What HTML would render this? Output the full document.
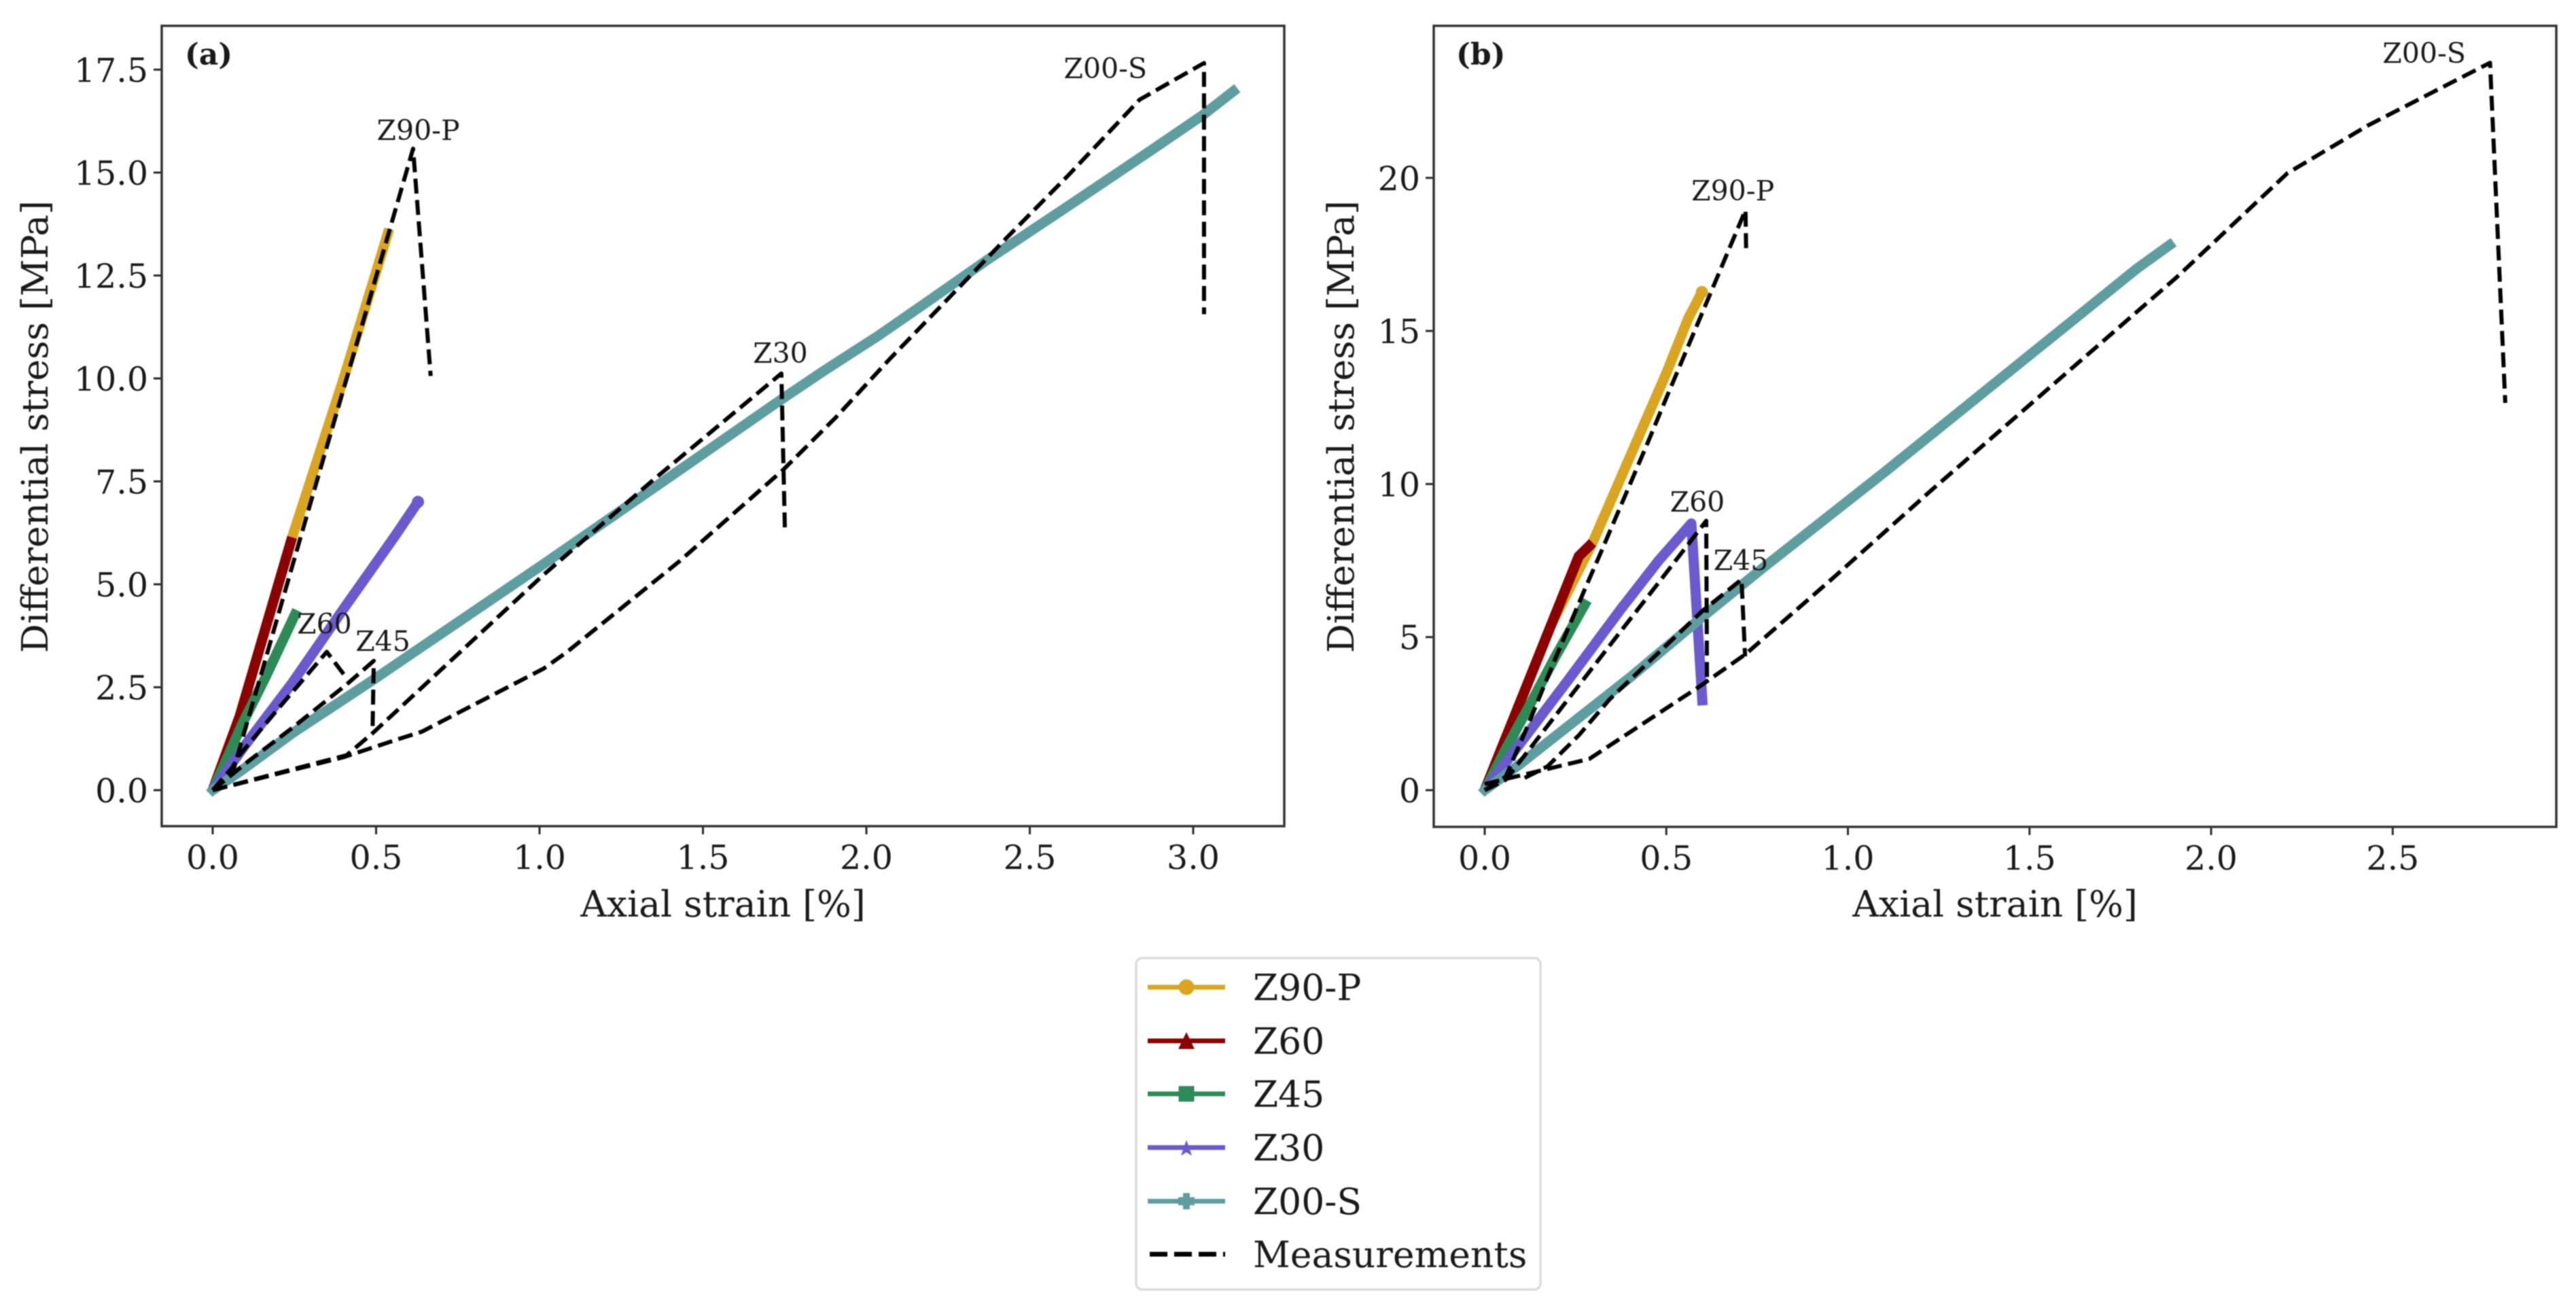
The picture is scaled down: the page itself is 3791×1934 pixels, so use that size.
<!DOCTYPE html>
<html lang="en">
<head>
<meta charset="utf-8">
<title>Differential stress vs axial strain</title>
<style>
html,body{margin:0;padding:0;background:#fff;}
svg{display:block;filter:blur(0.9px);}
text{font-family:"DejaVu Serif","Liberation Serif",serif;fill:#1a1a1a;}
.axis-title{font-size:53.5px;}
.tick-label{font-size:49px;}
.annotation{font-size:41px;}
.panel-tag{font-size:44px;font-weight:bold;}
.legend-label{font-size:53.5px;}
</style>
</head>
<body>
<svg id="figure" xmlns="http://www.w3.org/2000/svg" width="3791" height="1934" viewBox="0 0 3791 1934">
  <rect x="0" y="0" width="3791" height="1934" fill="#ffffff"/>
  <g id="panel-a">
    <text class="panel-tag" x="272" y="95">(a)</text>
    <text class="axis-title" x="1064" y="1349" text-anchor="middle">Axial strain [%]</text>
    <text class="axis-title" transform="translate(70,628) rotate(-90)" text-anchor="middle">Differential stress [MPa]</text>
  </g>
  <g id="panel-b">
    <text class="panel-tag" x="2143" y="95">(b)</text>
    <text class="axis-title" x="2936" y="1349" text-anchor="middle">Axial strain [%]</text>
    <text class="axis-title" transform="translate(1992,628) rotate(-90)" text-anchor="middle">Differential stress [MPa]</text>
  </g>
  <g id="legend">
    <rect x="1672" y="1410" width="595" height="488" rx="9" ry="9" fill="#ffffff" stroke="#dcdcdc" stroke-width="3.5"/>
    <g>
      <line x1="1689" y1="1453" x2="1803" y2="1453" stroke="#DAA520" stroke-width="7"/>
      <circle cx="1746" cy="1453" r="11.5" fill="#DAA520"/>
      <text class="legend-label" x="1844" y="1472">Z90-P</text>
    </g>
    <g>
      <line x1="1689" y1="1532" x2="1803" y2="1532" stroke="#8B0000" stroke-width="7"/>
      <polygon points="1746,1519 1758,1544 1734,1544" fill="#8B0000"/>
      <text class="legend-label" x="1844" y="1551">Z60</text>
    </g>
    <g>
      <line x1="1689" y1="1610" x2="1803" y2="1610" stroke="#2E8B57" stroke-width="7"/>
      <rect x="1734.5" y="1598.5" width="23" height="23" fill="#2E8B57"/>
      <text class="legend-label" x="1844" y="1629">Z45</text>
    </g>
    <g>
      <line x1="1689" y1="1689" x2="1803" y2="1689" stroke="#6A5ACD" stroke-width="7"/>
      <polygon points="1746,1678 1749,1686 1758,1686 1751,1692 1754,1701 1746,1696 1738,1701 1741,1692 1734,1686 1743,1686" fill="#6A5ACD"/>
      <text class="legend-label" x="1844" y="1708">Z30</text>
    </g>
    <g>
      <line x1="1689" y1="1768" x2="1803" y2="1768" stroke="#5F9EA0" stroke-width="7"/>
      <polygon points="1741,1756 1751,1756 1751,1762 1758,1762 1758,1774 1751,1774 1751,1780 1741,1780 1741,1774 1734,1774 1734,1762 1741,1762" fill="#5F9EA0"/>
      <text class="legend-label" x="1844" y="1787">Z00-S</text>
    </g>
    <g>
      <line x1="1692" y1="1846" x2="1803" y2="1846" stroke="#000000" stroke-width="7" stroke-dasharray="26 10"/>
      <text class="legend-label" x="1844" y="1865">Measurements</text>
    </g>
  </g>
</svg>
<script>
// ---------- Panel (a) model curves ----------
var aZ90Strain = [0, 0.083, 0.243, 0.40, 0.54];
var aZ90Stress = [0, 1.80, 6.14, 9.98, 13.63];
var aZ60Strain = [0, 0.083, 0.243];
var aZ60Stress = [0, 1.80, 6.14];
var aZ45Strain = [0, 0.09, 0.162, 0.258];
var aZ45Stress = [0, 1.60, 2.75, 4.37];
var aZ30Strain = [0, 0.10, 0.243, 0.40, 0.56, 0.628];
var aZ30Stress = [0, 1.10, 2.60, 4.40, 6.20, 7.00];
var aZ00Strain = [0, 0.083, 0.243, 0.48, 1.012, 1.428, 1.727, 1.869, 2.037, 2.19, 2.37, 2.62, 2.86, 3.03, 3.135];
var aZ00Stress = [0, 0.45, 1.38, 2.62, 5.49, 7.77, 9.42, 10.18, 11.04, 11.88, 12.88, 14.20, 15.48, 16.40, 17.05];

// ---------- Panel (a) measurements ----------
var aMeasZ90Strain = [0, 0.06, 0.107, 0.148, 0.202, 0.262, 0.358, 0.54, 0.613, 0.667];
var aMeasZ90Stress = [0, 0.40, 1.69, 2.81, 4.30, 5.95, 8.58, 13.57, 15.58, 10.06];
var aMeasZ60Strain = [0, 0.06, 0.083, 0.187, 0.349, 0.41];
var aMeasZ60Stress = [0, 0.55, 0.86, 1.85, 3.36, 2.72];
var aMeasZ45Strain = [0, 0.107, 0.243, 0.41, 0.493, 0.489];
var aMeasZ45Stress = [0, 0.69, 1.51, 2.57, 3.14, 1.39];
var aMeasZ30Strain = [0, 0.41, 0.49, 1.012, 1.35, 1.74, 1.751];
var aMeasZ30Stress = [0, 0.85, 1.39, 5.23, 7.55, 10.12, 6.25];
var aMeasZ00Strain = [0, 0.40, 0.56, 0.64, 1.012, 1.083, 1.428, 1.744, 1.906, 2.07, 2.287, 2.43, 2.62, 2.836, 3.033, 3.033];
var aMeasZ00Stress = [0, 0.80, 1.22, 1.42, 2.95, 3.35, 5.56, 7.77, 9.05, 10.46, 12.24, 13.42, 14.95, 16.77, 17.66, 11.56];

// ---------- Panel (b) model curves ----------
var bZ90Strain = [0, 0.116, 0.183, 0.297, 0.402, 0.501, 0.56, 0.598];
var bZ90Stress = [0, 3.42, 5.40, 8.08, 10.95, 13.65, 15.40, 16.27];
var bZ60Strain = [0, 0.04, 0.116, 0.183, 0.259, 0.297];
var bZ60Stress = [0, 1.18, 3.42, 5.40, 7.64, 8.08];
var bZ45Strain = [0, 0.058, 0.125, 0.193, 0.282];
var bZ45Stress = [0, 1.35, 2.80, 4.33, 6.20];
var bZ30Strain = [0, 0.087, 0.23, 0.374, 0.479, 0.569, 0.60];
var bZ30Stress = [0, 1.36, 3.60, 5.90, 7.50, 8.71, 2.77];
var bZ00Strain = [0, 0.097, 0.402, 0.593, 0.767, 1.10, 1.796, 1.897];
var bZ00Stress = [0, 0.85, 3.70, 5.60, 7.27, 10.38, 17.04, 17.90];

// ---------- Panel (b) measurements ----------
var bMeasZ90Strain = [0, 0.058, 0.116, 0.193, 0.278, 0.316, 0.45, 0.501, 0.61, 0.718, 0.72];
var bMeasZ90Stress = [0, 0.44, 2.04, 4.26, 6.63, 7.66, 11.38, 12.84, 15.90, 18.95, 17.53];
var bMeasZ60Strain = [0, 0.058, 0.135, 0.259, 0.364, 0.469, 0.564, 0.61, 0.612];
var bMeasZ60Stress = [0, 0.34, 1.52, 3.42, 5.03, 6.63, 8.09, 8.80, 3.57];
var bMeasZ45Strain = [0.11, 0.173, 0.259, 0.344, 0.60, 0.707, 0.717];
var bMeasZ45Stress = [0.40, 0.78, 1.79, 2.97, 5.86, 6.88, 4.37];
var bMeasZ00Strain = [0, 0.288, 0.593, 0.718, 0.963, 1.232, 1.905, 2.21, 2.43, 2.768, 2.81];
var bMeasZ00Stress = [0.20, 1.02, 3.40, 4.44, 6.97, 9.82, 16.75, 20.15, 21.70, 23.76, 12.65];

// ---------- Tick values and labels ----------
var aXTicks = [0, 0.5, 1, 1.5, 2, 2.5, 3];
var aXTickLabels = ["0.0", "0.5", "1.0", "1.5", "2.0", "2.5", "3.0"];
var aYTicks = [0, 2.5, 5, 7.5, 10, 12.5, 15, 17.5];
var aYTickLabels = ["0.0", "2.5", "5.0", "7.5", "10.0", "12.5", "15.0", "17.5"];
var bXTicks = [0, 0.5, 1, 1.5, 2, 2.5];
var bXTickLabels = ["0.0", "0.5", "1.0", "1.5", "2.0", "2.5"];
var bYTicks = [0, 5, 10, 15, 20];
var bYTickLabels = ["0", "5", "10", "15", "20"];

// ---------- Specimen annotations (data coordinates) ----------
var aNoteLabels = ["Z90-P", "Z60", "Z45", "Z30", "Z00-S"];
var aNoteStrain = [0.502, 0.258, 0.437, 1.653, 2.604];
var aNoteStress = [15.79, 3.80, 3.38, 10.38, 17.29];
var bNoteLabels = ["Z90-P", "Z60", "Z45", "Z00-S"];
var bNoteStrain = [0.569, 0.51, 0.63, 2.472];
var bNoteStress = [19.26, 9.10, 7.19, 23.76];

var NS = 'http://www.w3.org/2000/svg';
var COLORS = {z90: '#DAA520', z60: '#8B0000', z45: '#2E8B57', z30: '#6A5ACD', z00: '#5F9EA0'};

function create(tag, parent) {
  var el = document.createElementNS(NS, tag);
  parent.appendChild(el);
  return el;
}

function linear(d0, r0, d1, r1) {
  return function (v) { return r0 + (v - d0) * (r1 - r0) / (d1 - d0); };
}

function pathFrom(xs, ys, sx, sy) {
  var out = [];
  for (var i = 0; i < xs.length; i++) {
    out.push(sx(xs[i]).toFixed(1) + ',' + sy(ys[i]).toFixed(1));
  }
  return out.join(' ');
}

function drawSolid(g, key, color, xs, ys, sx, sy) {
  var el = create('polyline', g);
  
  
  el.setAttribute('points', pathFrom(xs, ys, sx, sy));
  el.setAttribute('fill', 'none');
  el.setAttribute('stroke', color);
  el.setAttribute('stroke-width', '15');
  el.setAttribute('stroke-linejoin', 'round');
}

function drawDashed(g, key, xs, ys, sx, sy) {
  var el = create('polyline', g);
  
  
  el.setAttribute('points', pathFrom(xs, ys, sx, sy));
  el.setAttribute('fill', 'none');
  el.setAttribute('stroke', '#000000');
  el.setAttribute('stroke-width', '6');
  el.setAttribute('stroke-dasharray', '22 9.5');
  el.setAttribute('stroke-linejoin', 'round');
}

function drawEndDot(g, key, color, x, y, sx, sy) {
  var el = create('circle', g);
  
  
  el.setAttribute('cx', sx(x).toFixed(1));
  el.setAttribute('cy', sy(y).toFixed(1));
  el.setAttribute('r', '9');
  el.setAttribute('fill', color);
}

function drawOriginMarker(g, key, color, sx, sy) {
  var el = create('rect', g);
  
  
  el.setAttribute('x', (sx(0) - 7).toFixed(1));
  el.setAttribute('y', (sy(0) - 7).toFixed(1));
  el.setAttribute('width', '14');
  el.setAttribute('height', '14');
  el.setAttribute('fill', color);
  el.setAttribute('transform', 'rotate(45 ' + sx(0).toFixed(1) + ' ' + sy(0).toFixed(1) + ')');
}

function drawFrame(g, prefix, box, sx, sy, xTicks, xLabels, yTicks, yLabels) {
  var i, t, lab;
  for (i = 0; i < xTicks.length; i++) {
    t = create('line', g);
    
    
    t.setAttribute('x1', sx(xTicks[i]));
    t.setAttribute('x2', sx(xTicks[i]));
    t.setAttribute('y1', box.bottom);
    t.setAttribute('y2', box.bottom + 12);
    t.setAttribute('stroke', '#2a2a2a');
    t.setAttribute('stroke-width', '3');
    lab = create('text', g);
    
    
    lab.setAttribute('class', 'tick-label');
    lab.setAttribute('x', sx(xTicks[i]));
    lab.setAttribute('y', box.bottom + 63);
    lab.setAttribute('text-anchor', 'middle');
    lab.textContent = xLabels[i];
  }
  for (i = 0; i < yTicks.length; i++) {
    t = create('line', g);
    
    
    t.setAttribute('x1', box.left - 12);
    t.setAttribute('x2', box.left);
    t.setAttribute('y1', sy(yTicks[i]));
    t.setAttribute('y2', sy(yTicks[i]));
    t.setAttribute('stroke', '#2a2a2a');
    t.setAttribute('stroke-width', '3');
    lab = create('text', g);
    
    
    lab.setAttribute('class', 'tick-label');
    lab.setAttribute('x', box.left - 20);
    lab.setAttribute('y', sy(yTicks[i]) + 18);
    lab.setAttribute('text-anchor', 'end');
    lab.textContent = yLabels[i];
  }
  var frame = create('rect', g);
  
  
  frame.setAttribute('x', box.left);
  frame.setAttribute('y', box.top);
  frame.setAttribute('width', box.right - box.left);
  frame.setAttribute('height', box.bottom - box.top);
  frame.setAttribute('fill', 'none');
  frame.setAttribute('stroke', '#333333');
  frame.setAttribute('stroke-width', '3.5');
}

function drawNotes(g, prefix, labels, xs, ys, sx, sy) {
  for (var i = 0; i < labels.length; i++) {
    var n = create('text', g);
    
    
    n.setAttribute('class', 'annotation');
    n.setAttribute('x', sx(xs[i]).toFixed(1));
    n.setAttribute('y', sy(ys[i]).toFixed(1));
    n.textContent = labels[i];
  }
}

// Panel (a)
var aBox = {left: 238, right: 1890, top: 38, bottom: 1216};
var ax = linear(0, 313, 1, 794);
var ay = linear(0, 1163, 1, 1102.4);
var ga = document.getElementById('panel-a');
drawFrame(ga, 'panel-a', aBox, ax, ay, aXTicks, aXTickLabels, aYTicks, aYTickLabels);
drawSolid(ga, 'panel-a-z90-p', COLORS.z90, aZ90Strain, aZ90Stress, ax, ay);
drawSolid(ga, 'panel-a-z60', COLORS.z60, aZ60Strain, aZ60Stress, ax, ay);
drawSolid(ga, 'panel-a-z45', COLORS.z45, aZ45Strain, aZ45Stress, ax, ay);
drawSolid(ga, 'panel-a-z30', COLORS.z30, aZ30Strain, aZ30Stress, ax, ay);
drawEndDot(ga, 'panel-a-z30', COLORS.z30, aZ30Strain[aZ30Strain.length - 1], aZ30Stress[aZ30Stress.length - 1], ax, ay);
drawSolid(ga, 'panel-a-z00-s', COLORS.z00, aZ00Strain, aZ00Stress, ax, ay);
drawOriginMarker(ga, 'panel-a-z00-s', COLORS.z00, ax, ay);
drawDashed(ga, 'panel-a-z90-p', aMeasZ90Strain, aMeasZ90Stress, ax, ay);
drawDashed(ga, 'panel-a-z60', aMeasZ60Strain, aMeasZ60Stress, ax, ay);
drawDashed(ga, 'panel-a-z45', aMeasZ45Strain, aMeasZ45Stress, ax, ay);
drawDashed(ga, 'panel-a-z30', aMeasZ30Strain, aMeasZ30Stress, ax, ay);
drawDashed(ga, 'panel-a-z00-s', aMeasZ00Strain, aMeasZ00Stress, ax, ay);
drawNotes(ga, 'panel-a', aNoteLabels, aNoteStrain, aNoteStress, ax, ay);

// Panel (b)
var bBox = {left: 2110, right: 3762, top: 38, bottom: 1217};
var bx = linear(0, 2185, 1, 2719.5);
var by = linear(0, 1163, 1, 1117.94);
var gb = document.getElementById('panel-b');
drawFrame(gb, 'panel-b', bBox, bx, by, bXTicks, bXTickLabels, bYTicks, bYTickLabels);
drawSolid(gb, 'panel-b-z90-p', COLORS.z90, bZ90Strain, bZ90Stress, bx, by);
drawEndDot(gb, 'panel-b-z90-p', COLORS.z90, bZ90Strain[bZ90Strain.length - 1], bZ90Stress[bZ90Stress.length - 1], bx, by);
drawSolid(gb, 'panel-b-z60', COLORS.z60, bZ60Strain, bZ60Stress, bx, by);
drawSolid(gb, 'panel-b-z45', COLORS.z45, bZ45Strain, bZ45Stress, bx, by);
drawSolid(gb, 'panel-b-z30', COLORS.z30, bZ30Strain, bZ30Stress, bx, by);
drawSolid(gb, 'panel-b-z00-s', COLORS.z00, bZ00Strain, bZ00Stress, bx, by);
drawOriginMarker(gb, 'panel-b-z00-s', COLORS.z00, bx, by);
drawDashed(gb, 'panel-b-z90-p', bMeasZ90Strain, bMeasZ90Stress, bx, by);
drawDashed(gb, 'panel-b-z60', bMeasZ60Strain, bMeasZ60Stress, bx, by);
drawDashed(gb, 'panel-b-z45', bMeasZ45Strain, bMeasZ45Stress, bx, by);
drawDashed(gb, 'panel-b-z00-s', bMeasZ00Strain, bMeasZ00Stress, bx, by);
drawNotes(gb, 'panel-b', bNoteLabels, bNoteStrain, bNoteStress, bx, by);
</script>
</body>
</html>
